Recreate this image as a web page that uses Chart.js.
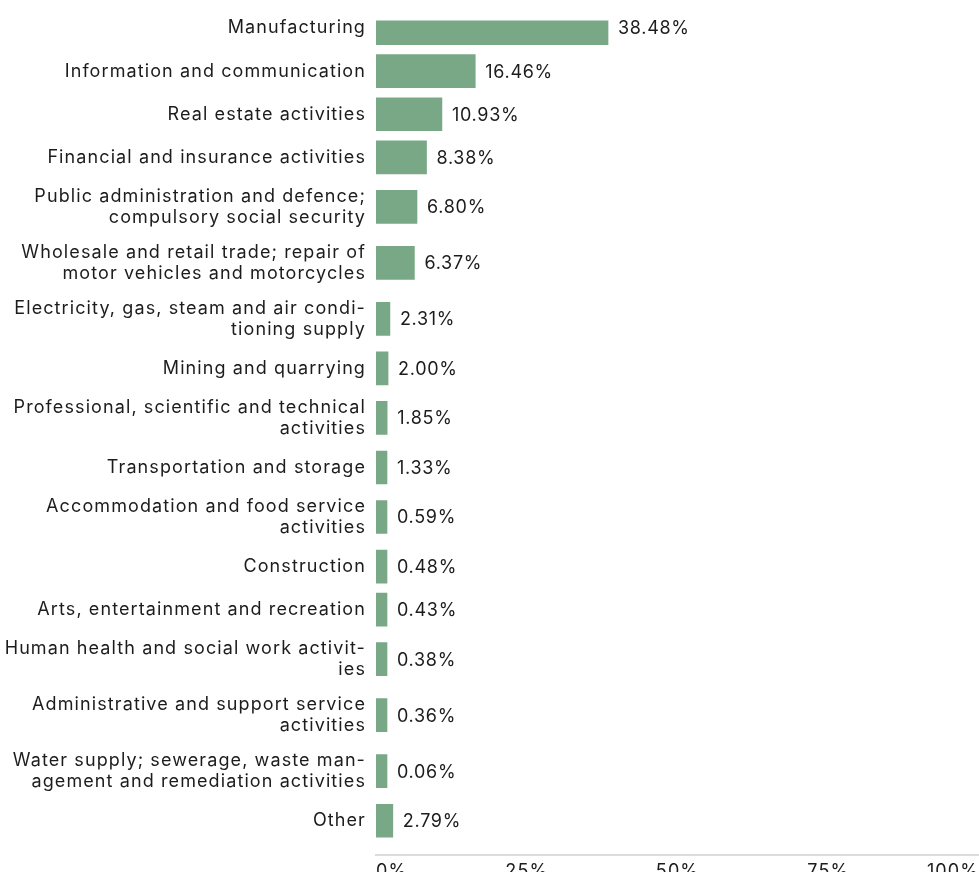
<!DOCTYPE html>
<html>
<head>
<meta charset="utf-8">
<script src="https://cdn.jsdelivr.net/npm/chart.js@4"></script>
<style>
  html, body { margin: 0; padding: 0; overflow: hidden; background: #fff; }
  #wrap { position: relative; width: 979px; height: 887px; }
</style>
</head>
<body>
<div id="wrap"><canvas id="sectorChart"></canvas></div>
<script>
// ---- Data ----
const categories = [
    ["Manufacturing"],
    ["Information and communication"],
    ["Real estate activities"],
    ["Financial and insurance activities"],
    ["Public administration and defence;", "compulsory social security"],
    ["Wholesale and retail trade; repair of", "motor vehicles and motorcycles"],
    ["Electricity, gas, steam and air condi-", "tioning supply"],
    ["Mining and quarrying"],
    ["Professional, scientific and technical", "activities"],
    ["Transportation and storage"],
    ["Accommodation and food service", "activities"],
    ["Construction"],
    ["Arts, entertainment and recreation"],
    ["Human health and social work activit-", "ies"],
    ["Administrative and support service", "activities"],
    ["Water supply; sewerage, waste man-", "agement and remediation activities"],
    ["Other"],
];
const shares = [38.48, 16.46, 10.93, 8.38, 6.80, 6.37, 2.31, 2.00, 1.85, 1.33,
                0.59, 0.48, 0.43, 0.38, 0.36, 0.06, 2.79];
const xTicks = [0, 25, 50, 75, 100];

// ---- Style tokens ----
const COLORS = { bar: "#79a886", text: "#1c1c1c", axis: "#dcdcdc" };
const FONT = "Inter";

// Rows with two-line labels get a bit more room (like the source layout)
const rowSize = lines => 1 + 0.3 * (lines - 1);
const rowPos = [];
categories.forEach((c, i) => {
    if (i === 0) { rowPos.push(0); return; }
    rowPos.push(rowPos[i - 1] + (rowSize(categories[i - 1].length) + rowSize(c.length)) / 2);
});
const yMin = -0.175;
const yMax = rowPos[rowPos.length - 1] + 0.805;

// slightly looser tracking, like the source typeface
const tracking = {
    id: "tracking",
    beforeDraw(chart) { chart.ctx.letterSpacing = "1.1px"; }
};

const valueLabels = {
    id: "valueLabels",
    afterDatasetsDraw(chart) {
        const ctx = chart.ctx;
        const meta = chart.getDatasetMeta(0);
        ctx.save();
        ctx.letterSpacing = "0.7px";
        ctx.font = "18px " + FONT;
        ctx.fillStyle = COLORS.text;
        ctx.textBaseline = "middle";
        ctx.textAlign = "left";
        meta.data.forEach((bar, i) => {
            ctx.fillText(shares[i].toFixed(2) + "%", bar.x + 10, bar.y + 1);
        });
        ctx.restore();
    }
};

new Chart(document.getElementById("sectorChart"), {
    type: "bar",
    data: {
        datasets: [{
            data: shares.map((v, i) => ({ x: v, y: rowPos[i] })),
            backgroundColor: COLORS.bar,
            barThickness: 33,
            minBarLength: 11,
            borderWidth: 0,
        }],
    },
    options: {
        indexAxis: "y",
        responsive: true,
        maintainAspectRatio: false,
        animation: false,
        layout: { padding: 0 },
        plugins: { legend: { display: false }, tooltip: { enabled: false } },
        scales: {
            x: {
                type: "linear",
                min: 0,
                max: 100,
                afterBuildTicks: s => { s.ticks = xTicks.map(v => ({ value: v })); },
                afterFit: s => { s.paddingRight = 0; },
                grid: { display: false, drawTicks: false },
                border: { display: true, color: COLORS.axis, width: 2 },
                ticks: {
                    align: "inner",
                    padding: 5,
                    color: COLORS.text,
                    font: { family: FONT, size: 18 },
                    callback: v => v + "%",
                },
            },
            y: {
                type: "linear",
                reverse: true,
                offset: false,
                bounds: "data",
                min: yMin,
                max: yMax,
                afterDataLimits: s => { s.min = yMin; s.max = yMax; },
                afterBuildTicks: s => { s.ticks = rowPos.map(v => ({ value: v })); },
                afterFit: s => { s.width = 376; },
                grid: { display: false, drawTicks: false },
                border: { display: false },
                ticks: {
                    padding: 10,
                    color: COLORS.text,
                    font: { family: FONT, size: 18, lineHeight: 1.17 },
                    callback: (v, i) => categories[i],
                },
            },
        },
    },
    plugins: [tracking, valueLabels],
});
</script>
</body>
</html>
